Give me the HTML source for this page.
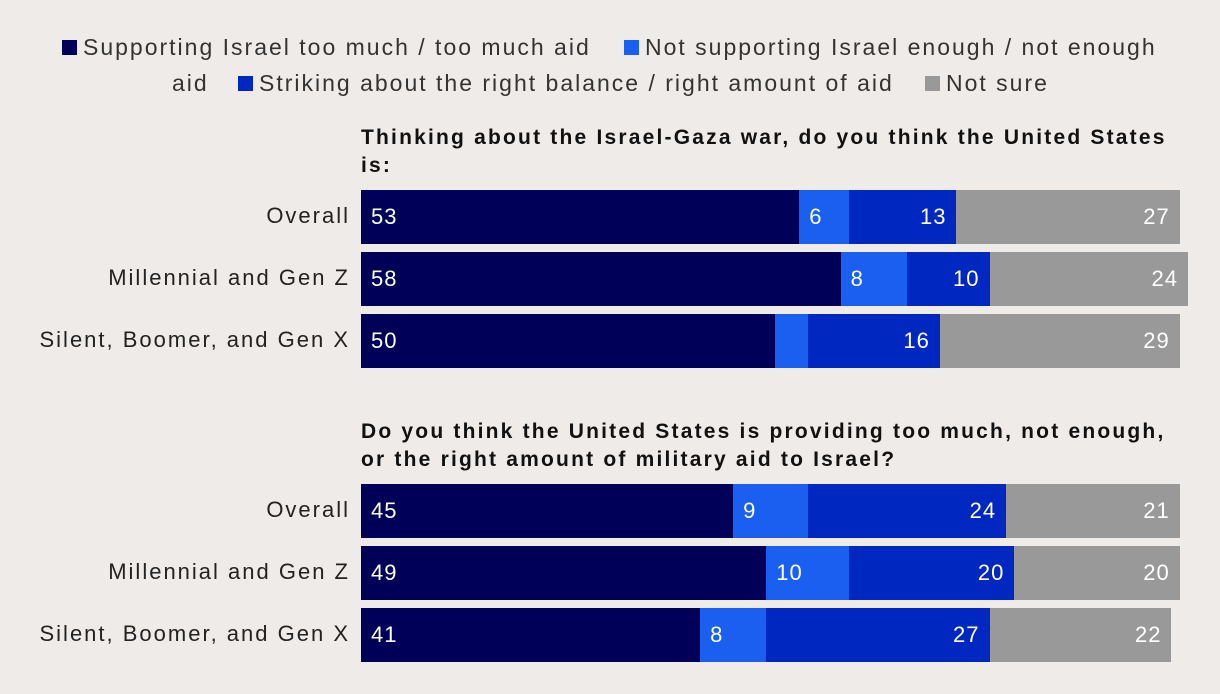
<!DOCTYPE html>
<html><head><meta charset="utf-8"><style>
body{margin:0;background:#efebe8;font-family:"Liberation Sans",sans-serif;}
#wrap{position:relative;width:1220px;height:694px;overflow:hidden;}
.leg{position:absolute;font-size:23px;color:#333;white-space:nowrap;letter-spacing:2px}
.sw{display:inline-block;width:15px;height:15px;margin-right:6px;vertical-align:0px}
.title{position:absolute;left:361px;font-weight:bold;font-size:21px;color:#111;line-height:28px;width:820px;letter-spacing:2.2px}
.cat{position:absolute;right:870px;font-size:22px;color:#222;white-space:nowrap;letter-spacing:2px}
.seg{position:absolute;height:54px}
.val{position:absolute;font-size:22px;color:#fff;line-height:54px;letter-spacing:1px}
</style></head><body><div id="wrap">
<div class="leg" style="left:62px;top:34px"><span class="sw" style="background:#000058"></span>Supporting Israel too much / too much aid</div>
<div class="leg" style="left:624px;top:34px"><span class="sw" style="background:#1a5ff0"></span>Not supporting Israel enough / not enough</div>
<div class="leg" style="left:172px;top:70px">aid</div>
<div class="leg" style="left:238px;top:70px"><span class="sw" style="background:#0027bf"></span>Striking about the right balance / right amount of aid</div>
<div class="leg" style="left:925px;top:70px"><span class="sw" style="background:#999"></span>Not sure</div>
<div class="title" style="top:124px">Thinking about the Israel-Gaza war, do you think the United States is:</div>
<div class="title" style="top:418px">Do you think the United States is providing too much, not enough, or the right amount of military aid to Israel?</div>
</div>
<script>
const categories=["Overall","Millennial and Gen Z","Silent, Boomer, and Gen X","Overall","Millennial and Gen Z","Silent, Boomer, and Gen X"];
const tooMuch=[53,58,50,45,49,41];
const notEnough=[6,8,4,9,10,8];
const rightBalance=[13,10,16,24,20,27];
const notSure=[27,24,29,21,20,22];
const showNotEnough=[true,true,false,true,true,true];
const colors=["#000058","#1a5ff0","#0027bf","#999999"];
const x0=361,unit=8.27;
const rowTops=[190,252,314,484,546,608];
const X=v=>x0+v*unit;
const wrap=document.getElementById('wrap');
categories.forEach((c,i)=>{
  const t=document.createElement('div');t.className='cat';
  
  
  t.style.top=(rowTops[i]+13)+'px';t.textContent=c;wrap.appendChild(t);
  const vals=[tooMuch[i],notEnough[i],rightBalance[i],notSure[i]];
  let acc=0;
  vals.forEach((v,k)=>{
    const s=document.createElement('div');s.className='seg';
    
    
    s.style.left=X(acc)+'px';s.style.width=(v*unit)+'px';s.style.top=rowTops[i]+'px';s.style.background=colors[k];
    wrap.appendChild(s);
    if(k!==1||showNotEnough[i]){
      const l=document.createElement('div');l.className='val';
      
      
      l.style.top=rowTops[i]+'px';l.textContent=v;
      if(k<2){l.style.left=(X(acc)+10)+'px';}
      else{l.style.right=(1220-X(acc+v)+10)+'px';}
      wrap.appendChild(l);
    }
    acc+=v;
  });
});
</script></body></html>
